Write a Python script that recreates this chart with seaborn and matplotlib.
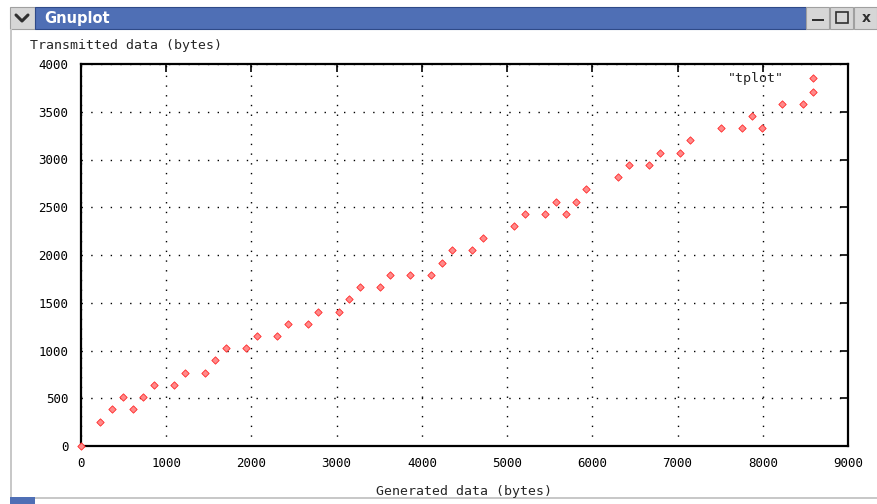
import matplotlib
matplotlib.use('Agg')
import matplotlib.pyplot as plt
from matplotlib.patches import Rectangle
from matplotlib.lines import Line2D
import seaborn as sns
import pandas as pd

# data
generated = [0, 223, 364, 493, 610, 728, 857, 1092, 1221, 1455, 1573, 1702, 1937,
             2066, 2300, 2430, 2664, 2782, 3028, 3146, 3275, 3509, 3627, 3862, 4108,
             4237, 4354, 4589, 4718, 5082, 5211, 5446, 5575, 5692, 5810, 5927, 6303,
             6432, 6667, 6796, 7030, 7148, 7512, 7758, 7876, 7993, 8228, 8474, 8592]
transmitted = [0, 256, 384, 512, 384, 512, 640, 640, 768, 768, 896, 1024, 1024,
               1152, 1152, 1280, 1280, 1408, 1408, 1536, 1664, 1664, 1792, 1792, 1792,
               1920, 2048, 2048, 2176, 2304, 2432, 2432, 2560, 2432, 2560, 2688, 2816,
               2944, 2944, 3072, 3072, 3200, 3328, 3328, 3456, 3328, 3584, 3584, 3712]
xticks = list(range(0, 9001, 1000))
yticks = list(range(0, 4001, 500))

df = pd.DataFrame({'generated': generated, 'transmitted': transmitted})

sns.set_style('white')
plt.rcParams['font.family'] = ['DejaVu Sans Mono', 'DejaVu Sans']

W, H = 877, 504
fig = plt.figure(figsize=(W / 100, H / 100), dpi=100)
fig.patch.set_facecolor('white')


def box(x0, y0, x1, y1, **kw):
    # rectangle in screenshot pixel coords
    fig.add_artist(Rectangle((x0 / W, 1 - y1 / H), (x1 - x0) / W, (y1 - y0) / H,
                             transform=fig.transFigure, **kw))


# window chrome
box(10, 7, 35, 29, facecolor='#d6d6d6', edgecolor='#a0a0a0', lw=0.8)
box(35, 7, 806, 29, facecolor='#4f6fb5', edgecolor='#2f4a88', lw=0.8)
for bx in (806, 830, 854):
    box(bx, 7, bx + 23, 29, facecolor='#d6d6d6', edgecolor='#a0a0a0', lw=0.8)
fig.add_artist(Line2D([16 / W, 22 / W, 28 / W], [1 - 15 / H, 1 - 21 / H, 1 - 15 / H],
                      transform=fig.transFigure, color='#303030', lw=2.2))
fig.text(44 / W, 1 - 18 / H, 'Gnuplot', color='white', fontsize=10.5, weight='bold',
         family='DejaVu Sans', va='center', ha='left')
box(812, 19, 824, 21, facecolor='#303030', lw=0)
box(836, 12, 848, 23, facecolor='none', edgecolor='#303030', lw=1.2)
fig.text(866 / W, 1 - 18 / H, 'x', color='#303030', fontsize=10, weight='bold',
         family='DejaVu Sans', va='center', ha='center')
box(10, 29, 12, 497, facecolor='#c8c8c8', lw=0)
box(10, 497, 877, 499, facecolor='#c8c8c8', lw=0)
box(10, 497, 35, 504, facecolor='#4f6fb5', lw=0)

ax = fig.add_axes([81 / W, 1 - 446 / H, (848 - 81) / W, (446 - 64) / H])
sns.scatterplot(data=df, x='generated', y='transmitted', ax=ax, marker='D', s=14,
                color='#ff8a8a', edgecolor='#ff2828', linewidth=0.6, label='"tplot"',
                clip_on=False, zorder=3)

ax.set_xlim(0, 9000)
ax.set_ylim(0, 4000)
ax.set_xticks(xticks)
ax.set_yticks(yticks)
ax.tick_params(direction='in', length=6, width=1.2, top=True, right=True,
               labelsize=9, pad=9, colors='black')
ax.tick_params(axis='x', pad=8)
for sp in ax.spines.values():
    sp.set_color('black')
    sp.set_linewidth(1.6)
ax.grid(True, color='black', linestyle=(0, (1, 6)), linewidth=1.0)
ax.set_axisbelow(True)
ax.set_xlabel('')
ax.set_ylabel('')

fig.text(30 / W, 1 - 45 / H, 'Transmitted data (bytes)', fontsize=9.5, va='center', ha='left')
fig.text(464 / W, 1 - 492 / H, 'Generated data (bytes)', fontsize=9.5, va='center', ha='center')

leg = ax.legend(loc='upper right', bbox_to_anchor=(0.978, 0.993), frameon=False,
                markerfirst=False, fontsize=9.5, handletextpad=1.2, borderaxespad=0)

fig.savefig('out.png', dpi=100)
